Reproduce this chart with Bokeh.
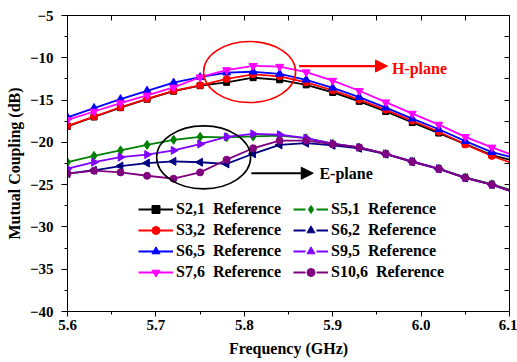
import math
from bokeh.plotting import figure
from bokeh.models import (ColumnDataSource, Legend, LegendItem, LinearAxis, FixedTicker,
                          Range1d, Label, Arrow, NormalHead, PrintfTickFormatter)
from bokeh.embed import file_html
from bokeh.resources import INLINE

# ---------------- data ----------------
freq = [5.60, 5.63, 5.66, 5.69, 5.72, 5.75, 5.78, 5.81, 5.84, 5.87, 5.90, 5.93, 5.96, 5.99, 6.02, 6.05, 6.08, 6.10]

s21 = [-18.10, -17.00, -15.90, -14.90, -13.95, -13.30, -12.90, -12.35, -12.60, -13.20, -14.10, -15.15, -16.35, -17.65, -18.90, -20.20, -21.50, -22.05]
s32 = [-18.05, -16.95, -15.85, -14.85, -13.90, -13.25, -12.50, -11.95, -12.20, -12.90, -13.85, -14.95, -16.15, -17.45, -18.75, -20.25, -21.60, -22.35]
s65 = [-17.05, -15.95, -14.90, -13.90, -12.95, -12.30, -11.75, -11.65, -11.90, -12.60, -13.55, -14.65, -15.90, -17.20, -18.45, -19.85, -21.15, -21.70]
s76 = [-17.35, -16.35, -15.35, -14.45, -13.50, -12.30, -11.45, -10.95, -11.05, -11.70, -12.70, -13.90, -15.25, -16.60, -17.90, -19.35, -20.60, -21.36]

s51 = [-22.35, -21.60, -20.95, -20.30, -19.70, -19.35, -19.40, -19.30, -19.20, -19.50, -20.15, -20.60, -21.35, -22.25, -23.10, -24.15, -24.95, -25.60]
s62 = [-23.70, -23.30, -22.80, -22.45, -22.25, -22.35, -22.55, -21.35, -20.30, -20.10, -20.35, -20.70, -21.40, -22.30, -23.15, -24.20, -25.00, -25.70]
s95 = [-23.10, -22.35, -21.75, -21.45, -20.95, -20.20, -19.35, -19.00, -19.10, -19.50, -20.15, -20.60, -21.35, -22.25, -23.10, -24.20, -25.00, -25.70]
s106 = [-23.70, -23.35, -23.55, -23.95, -24.30, -23.55, -22.05, -20.70, -19.80, -19.80, -20.20, -20.60, -21.35, -22.30, -23.15, -24.20, -25.00, -25.70]

labels_h = ["S2,1  Reference", "S3,2  Reference", "S6,5  Reference", "S7,6  Reference"]
labels_e = ["S5,1  Reference", "S6,2  Reference", "S9,5  Reference", "S10,6  Reference"]

x_ticks = [5.6, 5.7, 5.8, 5.9, 6.0, 6.1]
x_minor = [5.65, 5.75, 5.85, 5.95, 6.05]
y_ticks = [-40, -35, -30, -25, -20, -15, -10, -5]
y_minor = [-37.5, -32.5, -27.5, -22.5, -17.5, -12.5, -7.5]
top_ticks = [5.6, 5.65, 5.7, 5.75, 5.8, 5.85, 5.9, 5.95, 6.0, 6.05, 6.1]
right_ticks = [-40, -37.5, -35, -32.5, -30, -27.5, -25, -22.5, -20, -17.5, -15, -12.5, -10, -7.5, -5]

# annotation anchors (data units)
h_ellipse = (5.806, -11.68)
e_ellipse = (5.754, -21.77)
h_arrow = (5.862, 5.962, -10.98)
e_arrow = (5.808, 5.878, -23.65)
h_text = (5.967, -11.3)
e_text = (5.885, -23.65)

FONT = "Liberation Serif"

p = figure(width=517, height=362, output_backend="svg", toolbar_location=None,
           x_range=Range1d(5.6, 6.1), y_range=Range1d(-40, -5),
           min_border_left=67, min_border_top=15, min_border_right=8, min_border_bottom=51)
p.background_fill_color = "white"
p.border_fill_color = "white"
p.grid.visible = False
p.outline_line_color = "black"
p.outline_line_width = 1

def style_axis(ax):
    ax.axis_line_color = "black"
    ax.major_tick_line_color = "black"
    ax.minor_tick_line_color = "black"
    ax.major_label_text_font = FONT
    ax.major_label_text_font_style = "bold"
    ax.major_label_text_font_size = "15px"
    ax.major_label_text_color = "black"
    ax.axis_label_text_font = FONT
    ax.axis_label_text_font_style = "bold"
    ax.axis_label_text_font_size = "16px"
    ax.axis_label_text_color = "black"

xa = p.xaxis[0]
style_axis(xa)
xa.ticker = FixedTicker(ticks=x_ticks, minor_ticks=x_minor)
xa.formatter = PrintfTickFormatter(format="%.1f")
xa.major_tick_out = 5
xa.major_tick_in = 0
xa.minor_tick_out = 3
xa.minor_tick_in = 0
xa.major_label_standoff = 3
xa.axis_label = "Frequency (GHz)"
xa.axis_label_standoff = 7

ya = p.yaxis[0]
style_axis(ya)
ya.ticker = FixedTicker(ticks=y_ticks, minor_ticks=y_minor)
ya.major_tick_out = 6
ya.major_tick_in = 0
ya.minor_tick_out = 3
ya.minor_tick_in = 0
ya.major_label_standoff = 8
ya.axis_label = "Mutual Coupling (dB)"
ya.axis_label_standoff = 4

def frame_axis(ticks):
    return LinearAxis(ticker=FixedTicker(ticks=ticks, minor_ticks=[]),
                      major_label_text_font_size="1px", major_label_text_color=None,
                      major_tick_in=5, major_tick_out=0, minor_tick_in=0, minor_tick_out=0,
                      axis_line_color="black", major_tick_line_color="black",
                      major_label_standoff=0)

p.add_layout(frame_axis(top_ticks), "above")
p.add_layout(frame_axis(right_ticks), "right")

N = 17  # marker positions (every 0.03 GHz)

series_h = [
    (s21, "black", "square", 0, 6),
    (s32, "#FF0000", "circle", 0, 7),
    (s65, "#0000FF", "triangle", 0, 8),
    (s76, "#FF00FF", "inverted_triangle", 0, 8),
]
series_e = [
    (s51, "#008000", "diamond", 0, 9),
    (s62, "#000080", "triangle", math.pi / 2, 8),
    (s95, "#8000FF", "triangle", -math.pi / 2, 8),
    (s106, "#800080", "circle", 0, 7),
]

def draw(series, labels, dashed_key=False):
    items = []
    for (vals, col, mk, ang, sz), lab in zip(series, labels):
        src = ColumnDataSource(dict(x=freq, y=vals))
        msrc = ColumnDataSource(dict(x=freq[:N], y=vals[:N]))
        lr = p.line("x", "y", source=src, line_color=col, line_width=1.8)
        sr = p.scatter("x", "y", source=msrc, marker=mk, angle=ang, size=sz,
                       fill_color=col, line_color=col)
        if dashed_key:
            # legend-only key line (no data points): broken segments either side of the marker
            kr = p.line("x", "y", source=ColumnDataSource(dict(x=[float("nan")], y=[float("nan")])),
                        line_color=col, line_width=1.8, line_dash="12 5 1 5")
            items.append(LegendItem(label=lab, renderers=[kr, sr], index=0))
        else:
            items.append(LegendItem(label=lab, renderers=[lr, sr]))
    return items

items_e = draw(series_e, labels_e, dashed_key=True)
items_h = draw(series_h, labels_h)

def make_legend(items, loc):
    return Legend(items=items, location=loc, padding=0, margin=0, spacing=1,
                  glyph_width=35, glyph_height=20, label_height=20, label_standoff=3,
                  label_text_font=FONT, label_text_font_style="bold",
                  label_text_font_size="16px", label_text_color="black",
                  border_line_alpha=0, background_fill_alpha=0)

p.add_layout(make_legend(items_h, (71, 29)), "center")
p.add_layout(make_legend(items_e, (226, 29)), "center")

# annotations
p.ellipse(x=[h_ellipse[0]], y=[h_ellipse[1]], width=92, height=61, width_units="screen",
          height_units="screen", fill_color=None, line_color="#FF0000", line_width=1.6)
p.ellipse(x=[e_ellipse[0]], y=[e_ellipse[1]], width=94, height=63, width_units="screen",
          height_units="screen", fill_color=None, line_color="black", line_width=1.6)

p.add_layout(Arrow(end=NormalHead(size=12, fill_color="#FF0000", line_color="#FF0000"),
                   x_start=h_arrow[0], x_end=h_arrow[1], y_start=h_arrow[2], y_end=h_arrow[2],
                   line_color="#FF0000", line_width=2.2))
p.add_layout(Arrow(end=NormalHead(size=12, fill_color="black", line_color="black"),
                   x_start=e_arrow[0], x_end=e_arrow[1], y_start=e_arrow[2], y_end=e_arrow[2],
                   line_color="black", line_width=2.2))

p.add_layout(Label(x=h_text[0], y=h_text[1], text="H-plane", text_color="#FF0000",
                   text_font=FONT, text_font_style="bold", text_font_size="16px",
                   text_baseline="middle"))
p.add_layout(Label(x=e_text[0], y=e_text[1], text="E-plane", text_color="black",
                   text_font=FONT, text_font_style="bold", text_font_size="16px",
                   text_baseline="middle"))

open("out.html", "w").write(file_html(p, INLINE))
